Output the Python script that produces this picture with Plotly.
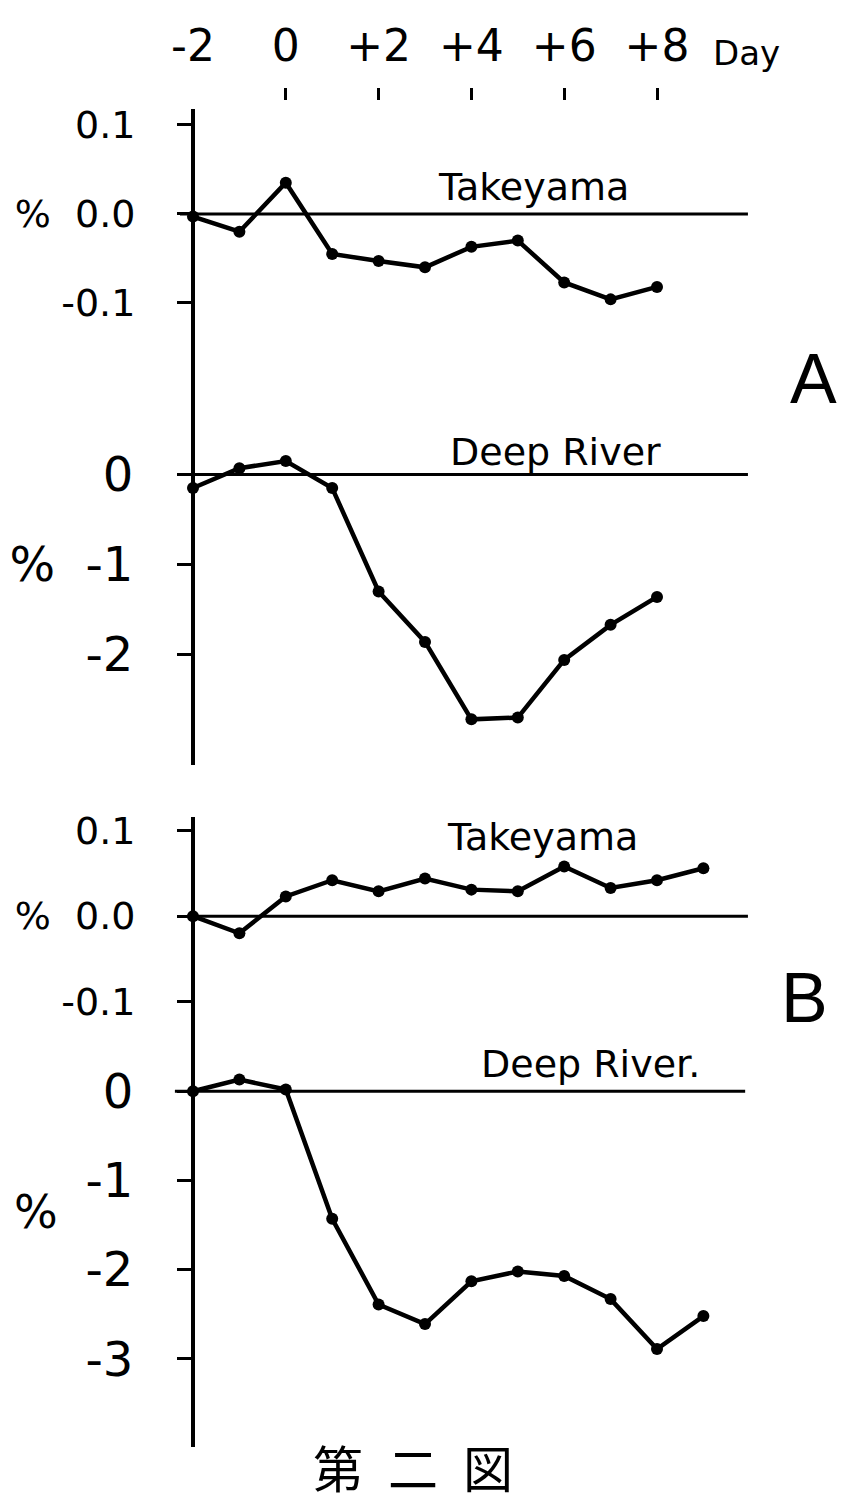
import plotly.graph_objects as go

# ---- data -------------------------------------------------------------
days_a = [-2, -1, 0, 1, 2, 3, 4, 5, 6, 7, 8]
days_b = [-2, -1, 0, 1, 2, 3, 4, 5, 6, 7, 8, 9]

takeyama_a = [-0.003, -0.020, 0.035, -0.045, -0.053, -0.060, -0.037, -0.030, -0.077, -0.096, -0.082]
deep_river_a = [-0.15, 0.07, 0.15, -0.15, -1.30, -1.86, -2.72, -2.70, -2.06, -1.67, -1.36]

takeyama_b = [0.0, -0.020, 0.023, 0.042, 0.029, 0.044, 0.031, 0.029, 0.058, 0.033, 0.042, 0.056]
deep_river_b = [0.0, 0.13, 0.02, -1.43, -2.39, -2.61, -2.13, -2.02, -2.07, -2.33, -2.89, -2.52]

day_ticks = [-2, 0, 2, 4, 6, 8]
day_labels = ["-2", "0", "+2", "+4", "+6", "+8"]
mark_ticks = [0, 2, 4, 6, 8]

tak_ticks = [0.1, 0.0, -0.1]
tak_labels = ["0.1", "%  0.0", "-0.1"]
dr_a_ticks = [0, -1, -2]
dr_a_labels = ["0", "%  -1", "-2"]
dr_b_ticks = [0, -1, -2, -3]
dr_b_labels = ["0", "-1", "-2", "-3"]

# ---- page geometry (pixels) -------------------------------------------
W, H = 841, 1505
AXIS_X = 193          # left vertical axis
X0_DAY, PX_PER_DAY = -2, 46.4
FONT = "DejaVu Sans"
INK = "black"


def py(p):
    """pixel row -> paper fraction"""
    return 1 - p / H


def px(p):
    return p / W


def yrange(zero_px, px_per_unit, top_px, bottom_px):
    return [-(bottom_px - zero_px) / px_per_unit, (zero_px - top_px) / px_per_unit]


x_range = [X0_DAY - AXIS_X / PX_PER_DAY, X0_DAY + (W - AXIS_X) / PX_PER_DAY]

panels = [
    # (zero px, px per unit, top px, bottom px)
    (207, 895, 102, 340),
    (469, 90.5, 340, 761),
    (913, 860, 813, 1040),
    (1089, 89.7, 1040, 1447),
]

fig = go.Figure()

series = [
    (days_a, takeyama_a, "y"),
    (days_a, deep_river_a, "y2"),
    (days_b, takeyama_b, "y3"),
    (days_b, deep_river_b, "y4"),
]
for xs, ys, ya in series:
    fig.add_trace(go.Scatter(
        x=xs, y=ys, xaxis="x", yaxis=ya, mode="lines+markers",
        line=dict(color=INK, width=4.5),
        marker=dict(color=INK, size=12),
        showlegend=False, hoverinfo="skip",
    ))

tick_sets = [
    (tak_ticks, tak_labels, 38),
    (dr_a_ticks, dr_a_labels, 48),
    (tak_ticks, tak_labels, 38),
    (dr_b_ticks, dr_b_labels, 48),
]

layout = dict(
    width=W, height=H,
    margin=dict(l=0, r=0, t=0, b=0),
    paper_bgcolor="white", plot_bgcolor="white",
    showlegend=False,
    font=dict(family=FONT, color=INK),
    xaxis=dict(
        domain=[0, 1], range=x_range, side="top", anchor="free", position=py(92),
        tickmode="array", tickvals=mark_ticks, ticks="outside", ticklen=12,
        tickwidth=3, tickcolor=INK, showticklabels=False,
        showline=False, showgrid=False, zeroline=False,
    ),
    xaxis2=dict(
        domain=[0, 1], range=x_range, overlaying="x", side="top", anchor="free",
        position=py(62), tickmode="array", tickvals=day_ticks, ticktext=day_labels,
        ticks="", tickfont=dict(size=44, family=FONT, color=INK),
        showline=False, showgrid=False, zeroline=False,
    ),
)

names = ["yaxis", "yaxis2", "yaxis3", "yaxis4"]
for name, (zero_px, ppu, top_px, bot_px), (tv, tt, fs) in zip(names, panels, tick_sets):
    layout[name] = dict(
        domain=[py(bot_px), py(top_px)],
        range=yrange(zero_px, ppu, top_px, bot_px),
        anchor="free", position=px(AXIS_X),
        showline=True, linewidth=4, linecolor=INK,
        tickmode="array", tickvals=tv, ticktext=tt,
        ticks="outside", ticklen=14, tickwidth=3, tickcolor=INK,
        ticklabelstandoff=34,
        tickfont=dict(size=fs, family=FONT, color=INK),
        showgrid=False, zeroline=False,
    )

fig.update_layout(**layout)

# an empty trace keeps the label axis alive
fig.add_trace(go.Scatter(x=[None], y=[None], xaxis="x2", yaxis="y",
                         showlegend=False, hoverinfo="skip"))

# zero reference lines for each panel (x from/to in days)
zero_lines = [("y", -2.28, 9.96), ("y2", -2.17, 9.96), ("y3", -2.13, 9.96), ("y4", -2.39, 9.9)]
for yref, xa, xb in zero_lines:
    fig.add_shape(type="line", xref="x", yref=yref, x0=xa, x1=xb, y0=0, y1=0,
                  line=dict(color=INK, width=3))

texts = [
    ("Takeyama", 533, 180, 38, FONT),
    ("Deep River", 555, 446, 38, FONT),
    ("Takeyama", 542, 833, 38, FONT),
    ("Deep River.", 590, 1062, 38, FONT),
    ("A", 813, 373, 70, "Liberation Sans"),
    ("B", 804, 995, 70, "Liberation Sans"),
    ("%", 36, 1210, 46, FONT),
    ("Day", 746, 45, 34, FONT),
    ("第\u2002二\u2002図", 413, 1466, 50, "Noto Sans CJK JP"),
]
for txt, cx, cy, fs, fam in texts:
    fig.add_annotation(text=txt, x=px(cx), y=py(cy), xref="paper", yref="paper",
                       showarrow=False, xanchor="center", yanchor="middle",
                       font=dict(size=fs, family=fam, color=INK))

fig.write_html("out.html")
